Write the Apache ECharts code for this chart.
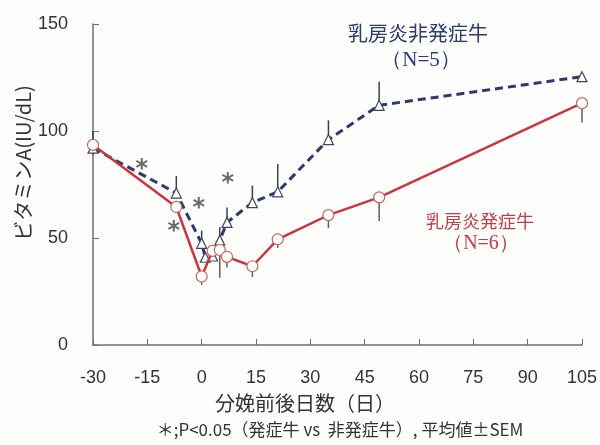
<!DOCTYPE html>
<html>
<head>
<meta charset="utf-8">
<script src="https://cdn.jsdelivr.net/npm/echarts@6.0.0/dist/echarts.min.js"></script>
<style>
  html, body { margin: 0; padding: 0; background: #fdfdfb; }
  #chart { width: 600px; height: 445px; }
</style>
</head>
<body>
<div id="chart"></div>
<script>
// 分娩前後日数
var nonDays = [-30, -7, 0, 1, 3, 5, 7, 14, 21, 35, 49, 105];
var nonVals = [92, 71, 47.5, 41, 41.6, 49, 57.3, 66.5, 71.6, 96, 112, 125.4];
var nonSem  = [8, 8, 6, 0, 3, 6, 7, 8, 13, 9, 11, 0];

var caseDays = [-30, -7, 0, 3, 5, 7, 14, 21, 35, 49, 105];
var caseVals = [93.5, 64.5, 32, 44, 44.4, 41.2, 36.8, 49.4, 60.7, 69, 113];
var caseSem  = [5, 2, 4, 0, 13, 5, 5, 4, 6, 11, 9];

// 有意差マーク (*)
var sigDays = [-16.5, -7.7, -0.8, 7.2];
var sigVals = [85, 56, 66.8, 78.5];

var BLUE = '#2c3a6c';
var RED = '#c8363e';
var NUM_FONT = 'Liberation Sans';

function pairs(xs, ys) {
  return xs.map(function (x, i) { return [x, ys[i]]; });
}
function semData(xs, ys, ss) {
  return xs.map(function (x, i) { return [x, ys[i], ss[i]]; });
}

function errBar(dir, color) {
  return function (params, api) {
    var x = api.value(0), y = api.value(1), s = api.value(2);
    if (!s) return null;
    var p0 = api.coord([x, y]);
    var p1 = api.coord([x, y + dir * s]);
    return {
      type: 'line',
      shape: { x1: p0[0], y1: p0[1], x2: p1[0], y2: p1[1] },
      style: { stroke: color, lineWidth: 1.5 }
    };
  };
}

var myChart = echarts.init(document.getElementById('chart'));
myChart.setOption({
  animation: false,
  backgroundColor: '#fdfdfb',
  grid: { left: 93, right: 17, top: 24, bottom: 100 },
  xAxis: {
    type: 'value',
    min: -30, max: 105, interval: 15,
    axisLine: { lineStyle: { color: '#6f6f6f', width: 1.5 } },
    axisTick: { inside: true, length: 6, lineStyle: { color: '#6f6f6f' } },
    splitLine: { show: false },
    axisLabel: {
      margin: 24,
      fontFamily: NUM_FONT,
      fontSize: 18,
      color: '#333'
    }
  },
  yAxis: {
    type: 'value',
    min: 0, max: 150, interval: 50,
    axisLine: { show: true, onZero: false, lineStyle: { color: '#6f6f6f', width: 1.5 } },
    axisTick: { show: true, inside: true, length: 6, lineStyle: { color: '#6f6f6f' } },
    splitLine: { show: false },
    axisLabel: {
      margin: 25,
      fontFamily: NUM_FONT,
      fontSize: 18,
      color: '#333'
    }
  },
  series: [
    {
      type: 'custom',
      renderItem: errBar(1, '#3a3f55'),
      data: semData(nonDays, nonVals, nonSem),
      z: 2
    },
    {
      type: 'custom',
      renderItem: errBar(-1, '#6a5a5a'),
      data: semData(caseDays, caseVals, caseSem),
      z: 2
    },
    {
      name: '乳房炎非発症牛',
      type: 'line',
      data: pairs(nonDays, nonVals),
      symbol: 'triangle',
      symbolSize: 10,
      lineStyle: { color: BLUE, width: 3, type: [8, 5] },
      itemStyle: { color: '#fff', borderColor: '#3c4660', borderWidth: 1.2 },
      z: 3
    },
    {
      name: '乳房炎発症牛',
      type: 'line',
      data: pairs(caseDays, caseVals),
      symbol: 'circle',
      symbolSize: 11,
      lineStyle: { color: RED, width: 2.5 },
      itemStyle: { color: '#fff', borderColor: '#b86a62', borderWidth: 1.2 },
      z: 4
    },
    {
      type: 'scatter',
      data: pairs(sigDays, sigVals),
      symbol: 'circle',
      symbolSize: 0,
      itemStyle: { color: 'rgba(0,0,0,0)' },
      label: {
        show: true,
        position: 'inside',
        formatter: '*',
        fontFamily: 'DejaVu Sans',
        fontSize: 24,
        fontWeight: 'bold',
        color: '#444',
        offset: [0, 7]
      },
      z: 5
    }
  ],
  graphic: [
    {
      type: 'text', x: 23, y: 163, rotation: Math.PI / 2,
      style: {
        text: 'ビタミンA(IU/dL)', fill: '#333',
        font: '20px "Noto Sans CJK JP"', align: 'center', verticalAlign: 'middle'
      }
    },
    {
      type: 'text', x: 305, y: 403,
      style: {
        text: '分娩前後日数（日）', fill: '#333',
        font: '20px "Noto Sans CJK JP"', align: 'center', verticalAlign: 'middle'
      }
    },
    {
      type: 'text', x: 340, y: 430,
      style: {
        text: '＊;P<0.05（発症牛 vs  非発症牛）, 平均値±SEM', fill: '#333',
        font: '17px "Noto Sans CJK JP"', align: 'center', verticalAlign: 'middle'
      }
    },
    {
      type: 'text', x: 418, y: 33,
      style: {
        text: '乳房炎非発症牛', fill: BLUE,
        font: '20px "Noto Sans CJK JP"', align: 'center', verticalAlign: 'middle'
      }
    },
    {
      type: 'text', x: 421, y: 60,
      style: {
        text: '（N=5）', fill: BLUE,
        font: '21px "Liberation Serif"', align: 'center', verticalAlign: 'middle'
      }
    },
    {
      type: 'text', x: 480, y: 221,
      style: {
        text: '乳房炎発症牛', fill: '#b8404a',
        font: '18px "Noto Sans CJK JP"', align: 'center', verticalAlign: 'middle'
      }
    },
    {
      type: 'text', x: 481, y: 244,
      style: {
        text: '（N=6）', fill: '#b8404a',
        font: '20px "Liberation Serif"', align: 'center', verticalAlign: 'middle'
      }
    }
  ]
});

window.addEventListener('resize', function () {
  myChart.resize();
});
</script>
</body>
</html>
